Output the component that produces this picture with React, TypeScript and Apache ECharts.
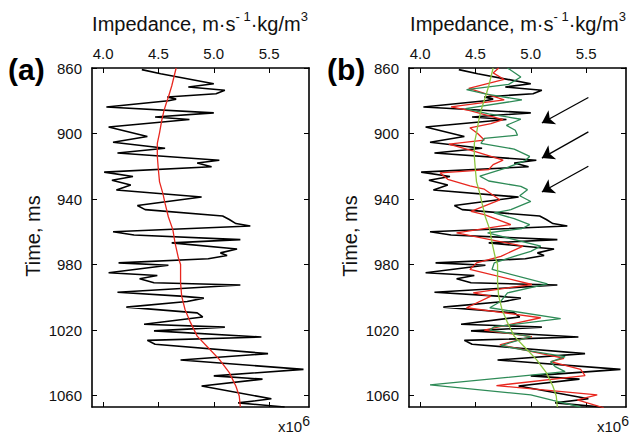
import React, { useEffect, useRef } from "react";
import * as echarts from "echarts";

// Tick labels
const xTicks = [4.0, 4.5, 5.0, 5.5];
const yTicks = [860, 900, 940, 980, 1020, 1060];

// Well log impedance (black), x10^6
const wellTimes = [861, 863.5, 869.6, 871.6, 873.6, 875.7, 877.7, 879, 880, 883.8, 887.4, 889.9, 891.4, 896, 901.8, 905.3, 909, 911.9, 916.3, 918, 920.3, 923.6, 926.3, 928.5, 931.5, 934.5, 938.8, 944, 946.5, 950.4, 952.5, 955, 956.5, 960, 962, 964.8, 966.8, 970.5, 972.9, 974.5, 976.5, 979, 980.4, 985, 986.7, 988.7, 991.1, 992.5, 996.9, 999.3, 1000.5, 1002.6, 1006, 1009.5, 1012, 1016.5, 1018.2, 1020.5, 1024.3, 1026.3, 1028.7, 1034.4, 1038.3, 1044, 1048, 1050, 1054.2, 1062, 1064.5, 1067];
const wellValues = [4.35, 4.52, 5.0, 4.77, 5.1, 5.02, 4.58, 4.66, 4.59, 4.03, 5.0, 4.47, 4.78, 4.05, 4.4, 4.09, 4.56, 4.13, 5.05, 4.85, 4.98, 4.01, 4.27, 4.08, 4.25, 4.12, 4.89, 4.31, 4.38, 5.08, 5.14, 5.2, 5.33, 4.09, 4.28, 5.24, 4.62, 5.21, 5.06, 5.12, 4.95, 4.14, 4.59, 4.05, 4.49, 4.33, 4.46, 5.24, 4.13, 4.7, 4.91, 4.76, 4.21, 4.85, 4.9, 4.37, 5.1, 4.46, 5.43, 4.4, 4.47, 5.49, 4.7, 5.81, 5.0, 5.44, 4.89, 5.52, 5.22, 5.64];

// Low-frequency trend
const trendTimes = [860, 865.5, 871, 877.7, 881.7, 886, 892, 899.6, 906, 914, 922.4, 929.5, 936.6, 942.7, 951, 958.7, 966.8, 975.9, 980, 991.2, 999.3, 1007.4, 1015.5, 1023.7, 1030.8, 1037.9, 1046, 1054.3, 1060.3, 1067];
const trendValues = [4.66, 4.64, 4.62, 4.59, 4.57, 4.55, 4.53, 4.51, 4.49, 4.49, 4.5, 4.51, 4.54, 4.56, 4.59, 4.63, 4.65, 4.68, 4.7, 4.7, 4.71, 4.74, 4.79, 4.85, 4.95, 5.05, 5.14, 5.2, 5.23, 5.24];

// Inversion result (red)
const redTimes = [860, 863, 867, 872.5, 875, 879.5, 883.8, 886, 891.5, 894, 896.5, 900, 904, 906.5, 911, 916.3, 919, 922, 924, 928, 932, 934, 940.5, 947.5, 949.5, 955.6, 960.7, 968.8, 975, 979, 983, 992.2, 997.3, 999.3, 1006.4, 1012.5, 1020, 1024, 1029, 1037.3, 1039.3, 1044, 1047.8, 1053.9, 1059.6, 1062.6, 1067.5];
const redValues = [4.71, 4.66, 4.76, 4.44, 4.56, 4.76, 4.28, 4.45, 4.75, 4.64, 4.45, 4.52, 4.58, 4.26, 4.5, 4.75, 4.66, 4.62, 4.18, 4.25, 4.45, 4.58, 4.72, 4.46, 4.58, 4.82, 4.33, 4.93, 4.73, 4.51, 4.45, 5.01, 4.48, 4.64, 4.42, 5.09, 4.58, 5.01, 4.72, 5.3, 5.18, 5.45, 5.49, 4.69, 5.6, 5.42, 5.66];

// Inversion result (green)
const greenTimes = [860, 865.5, 870, 873.2, 876, 879.5, 884.8, 888, 891.3, 895, 898, 901, 903, 906, 909.5, 914, 916.5, 921, 926, 929, 932.3, 934.3, 938, 941.5, 946.5, 948.5, 952, 955.6, 958, 960.7, 968.8, 972, 975, 979, 983, 991.8, 997.3, 1002.4, 1006.4, 1013, 1018, 1020, 1024, 1029.5, 1032, 1036.2, 1039.5, 1042.3, 1045.4, 1047.5, 1053.5, 1059.6, 1063, 1067];
const greenValues = [4.79, 4.91, 4.8, 4.42, 4.6, 4.92, 4.41, 4.62, 4.91, 4.78, 4.86, 4.88, 4.58, 4.55, 4.85, 4.99, 4.95, 4.78, 4.54, 4.62, 4.91, 4.97, 4.9, 5.0, 4.82, 4.67, 4.85, 4.99, 4.92, 4.61, 5.09, 5.0, 4.85, 4.67, 4.65, 5.15, 4.79, 4.73, 4.63, 5.27, 4.67, 4.63, 5.0, 4.73, 4.92, 5.31, 5.18, 5.22, 5.31, 5.0, 4.09, 5.0, 5.2, 5.45];

// Arrows in panel (b)
const arrowTails = [[5.52, 878], [5.52, 899], [5.52, 920]];
const arrowHeads = [[5.1, 893.6], [5.1, 915], [5.1, 935.7]];

const FONT = "'Liberation Sans', Arial, Helvetica, sans-serif";

const pairs = (t: number[], v: number[]) => t.map((tt, i) => [v[i], tt]);

function xAxisPair(grid: number) {
  const common = {
    gridIndex: grid,
    type: "value" as const,
    min: 3.9,
    max: 5.86,
    splitLine: { show: false },
    axisLine: { show: true, onZero: false, lineStyle: { color: "#000", width: 1.6 } },
    axisTick: { show: true, inside: true, length: 5, customValues: xTicks, lineStyle: { color: "#000", width: 1 } },
  };
  return [
    {
      ...common,
      position: "top",
      axisLabel: {
        show: true,
        customValues: xTicks,
        formatter: (v: number) => v.toFixed(1),
        color: "#111",
        fontSize: 15,
        fontFamily: FONT,
        margin: 7,
      },
    },
    { ...common, position: "bottom", axisLabel: { show: false } },
  ];
}

function yAxisPair(grid: number) {
  const common = {
    gridIndex: grid,
    type: "value" as const,
    inverse: true,
    min: 860,
    max: 1067,
    splitLine: { show: false },
    axisLine: { show: true, onZero: false, lineStyle: { color: "#000", width: 1.6 } },
    axisTick: { show: true, inside: true, length: 5, customValues: yTicks, lineStyle: { color: "#000", width: 1 } },
  };
  return [
    {
      ...common,
      position: "left",
      axisLabel: {
        show: true,
        customValues: yTicks,
        formatter: (v: number) => String(v),
        color: "#111",
        fontSize: 15,
        fontFamily: FONT,
        margin: 10,
      },
    },
    { ...common, position: "right", axisLabel: { show: false } },
  ];
}

function lineSeries(name: string, x: number, y: number, data: number[][], color: string, width: number, extra: any = {}) {
  return {
    name,
    type: "line",
    xAxisIndex: x,
    yAxisIndex: y,
    data,
    symbol: "none",
    showSymbol: false,
    smooth: false,
    lineStyle: { color, width },
    itemStyle: { color },
    z: 3,
    ...extra,
  };
}

function titleText(cx: number) {
  return {
    type: "text",
    x: cx,
    y: 10,
    style: {
      text: "{a|Impedance, m·s}{s|- 1}{a|·kg/m}{s|3}",
      align: "center",
      verticalAlign: "top",
      rich: {
        a: { fontSize: 20, fontFamily: FONT, fill: "#111", lineHeight: 24, verticalAlign: "bottom" },
        s: { fontSize: 13, fontFamily: FONT, fill: "#111", lineHeight: 14, verticalAlign: "top" },
      },
    },
  };
}

function timeText(cx: number) {
  return {
    type: "text",
    x: cx,
    y: 236,
    rotation: Math.PI / 2,
    style: { text: "Time, ms", fontSize: 20, fontFamily: FONT, fill: "#111", align: "center", verticalAlign: "middle" },
  };
}

function scaleText(x: number) {
  return {
    type: "text",
    x,
    y: 414,
    style: {
      text: "{a|x10}{s|6}",
      align: "left",
      verticalAlign: "top",
      rich: {
        a: { fontSize: 15, fontFamily: FONT, fill: "#111", lineHeight: 20, verticalAlign: "bottom" },
        s: { fontSize: 14, fontFamily: FONT, fill: "#111", lineHeight: 14, verticalAlign: "top" },
      },
    },
  };
}

function panelLabel(x: number, text: string) {
  return {
    type: "text",
    x,
    y: 69,
    style: { text, fontSize: 30, fontWeight: "bold", fontFamily: FONT, fill: "#000", align: "left", verticalAlign: "middle" },
  };
}

export default function App() {
  const ref = useRef<HTMLDivElement>(null);
  useEffect(() => {
    if (!ref.current) return;
    const chart = echarts.init(ref.current, null, { renderer: "svg" });
    const well = pairs(wellTimes, wellValues);
    const trend = pairs(trendTimes, trendValues);
    const option: any = {
      animation: false,
      backgroundColor: "#fff",
      grid: [
        { left: 92, top: 68, width: 217, height: 339, containLabel: false },
        { left: 409, top: 68, width: 217, height: 339, containLabel: false },
      ],
      xAxis: [...xAxisPair(0), ...xAxisPair(1)],
      yAxis: [...yAxisPair(0), ...yAxisPair(1)],
      series: [
        lineSeries("well a", 0, 0, well, "#000", 1.6),
        lineSeries("trend a", 0, 0, trend, "#e8271f", 1.3),
        lineSeries("well b", 2, 2, well, "#000", 1.6, {
          markLine: {
            silent: true,
            symbol: ["none", "arrow"],
            symbolSize: 12,
            label: { show: false },
            lineStyle: { color: "#000", width: 1.3, type: "solid" },
            data: arrowTails.map((t, i) => [{ coord: t }, { coord: arrowHeads[i] }]),
          },
        }),
        lineSeries("red b", 2, 2, pairs(redTimes, redValues), "#e8271f", 1.3),
        lineSeries("green b", 2, 2, pairs(greenTimes, greenValues), "#2e8b57", 1.3),
        lineSeries("trend b", 2, 2, trend, "#8cc63f", 1.3),
      ],
      graphic: [
        titleText(200),
        titleText(518),
        timeText(33),
        timeText(350),
        panelLabel(8, "(a)"),
        panelLabel(327, "(b)"),
        scaleText(278),
        scaleText(597),
      ],
    };
    chart.setOption(option);
    return () => chart.dispose();
  }, []);
  return (
    <div
      ref={ref}
      style={{ position: "absolute", left: 0, top: 0, width: 629, height: 435, background: "#fff" }}
    />
  );
}
